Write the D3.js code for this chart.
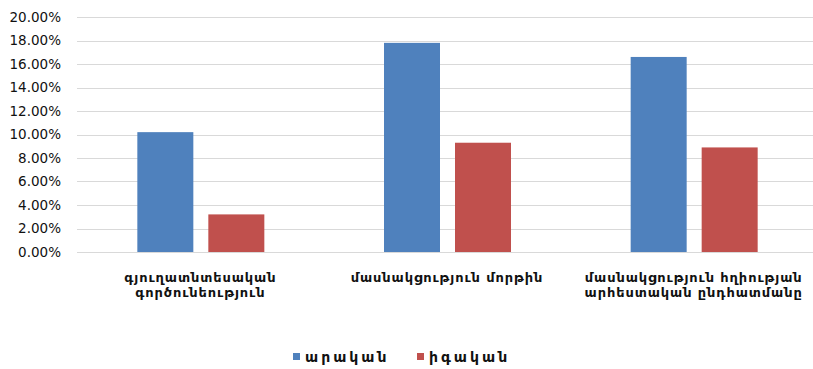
<!DOCTYPE html>
<html>
<head>
<meta charset="utf-8">
<script src="https://cdn.jsdelivr.net/npm/d3@7"></script>
<style>
  body { margin: 0; background: #fff; }
  svg { display: block; font-family: "DejaVu Sans", sans-serif; }
</style>
</head>
<body>
<svg id="chart"></svg>
<script>
const categories = [
  ["գյուղատնտեսական", "գործունեություն"],
  ["մասնակցություն մորթին"],
  ["մասնակցություն հղիության", "արհեստական ընդհատմանը"]
];
const seriesNames = ["արական", "իգական"];
const male = [10.2, 17.8, 16.6];
const female = [3.2, 9.3, 8.9];
const ticks = [0, 2, 4, 6, 8, 10, 12, 14, 16, 18, 20];

const width = 813, height = 369;
const colors = ["#4f81bd", "#c0504d"];

const svg = d3.select("#chart").attr("width", width).attr("height", height);

const x = d3.scaleBand().domain(d3.range(categories.length)).range([77, 817]);
const y = d3.scaleLinear().domain([0, 20]).range([252, 17]);

// gridlines
svg.append("g")
  .attr("stroke", "#d9d9d9")
  .selectAll("line")
  .data(ticks)
  .join("line")
    .attr("x1", 77).attr("x2", 813)
    .attr("y1", d => Math.round(y(d)) + 0.5)
    .attr("y2", d => Math.round(y(d)) + 0.5);

// y tick labels
svg.append("g")
  .attr("font-size", 13.5)
  .attr("fill", "#111")
  .attr("text-anchor", "end")
  .selectAll("text")
  .data(ticks)
  .join("text")
    .attr("x", 61)
    .attr("y", d => y(d))
    .attr("dy", "0.36em")
    .text(d => d.toFixed(2) + "%");

// bars
const series = [male, female];
const barW = 56;
const offsets = [-63, 8];
series.forEach((vals, s) => {
  svg.append("g")
    .attr("fill", colors[s])
    .selectAll("rect")
    .data(vals)
    .join("rect")
      .attr("x", (d, i) => x(i) + x.bandwidth() / 2 + offsets[s])
      .attr("width", barW)
      .attr("y", d => y(d))
      .attr("height", d => y(0) - y(d));
});

// category labels
const lab = svg.append("g")
  .attr("font-size", 13)
  .attr("font-weight", "bold")
  .attr("letter-spacing", 0.9)
  .attr("fill", "#111")
  .attr("text-anchor", "middle")
  .selectAll("text")
  .data(categories)
  .join("text")
    .attr("x", (d, i) => x(i) + x.bandwidth() / 2)
    .attr("y", 277);
lab.selectAll("tspan")
  .data(d => d)
  .join("tspan")
    .attr("x", function () { return this.parentNode.getAttribute("x"); })
    .attr("dy", (d, i) => i === 0 ? "0.35em" : 15)
    .text(d => d);

// legend
const legendX = [293, 417];
const leg = svg.append("g")
  .selectAll("g")
  .data(seriesNames)
  .join("g")
    .attr("transform", (d, i) => `translate(${legendX[i]},353)`);
leg.append("rect")
  .attr("width", 7).attr("height", 7)
  .attr("fill", (d, i) => colors[i]);
leg.append("text")
  .attr("x", 12).attr("y", 4).attr("dy", "0.35em")
  .attr("font-size", 14)
  .attr("font-weight", "bold")
  .attr("letter-spacing", 3)
  .attr("fill", "#111")
  .text(d => d);
</script>
</body>
</html>
